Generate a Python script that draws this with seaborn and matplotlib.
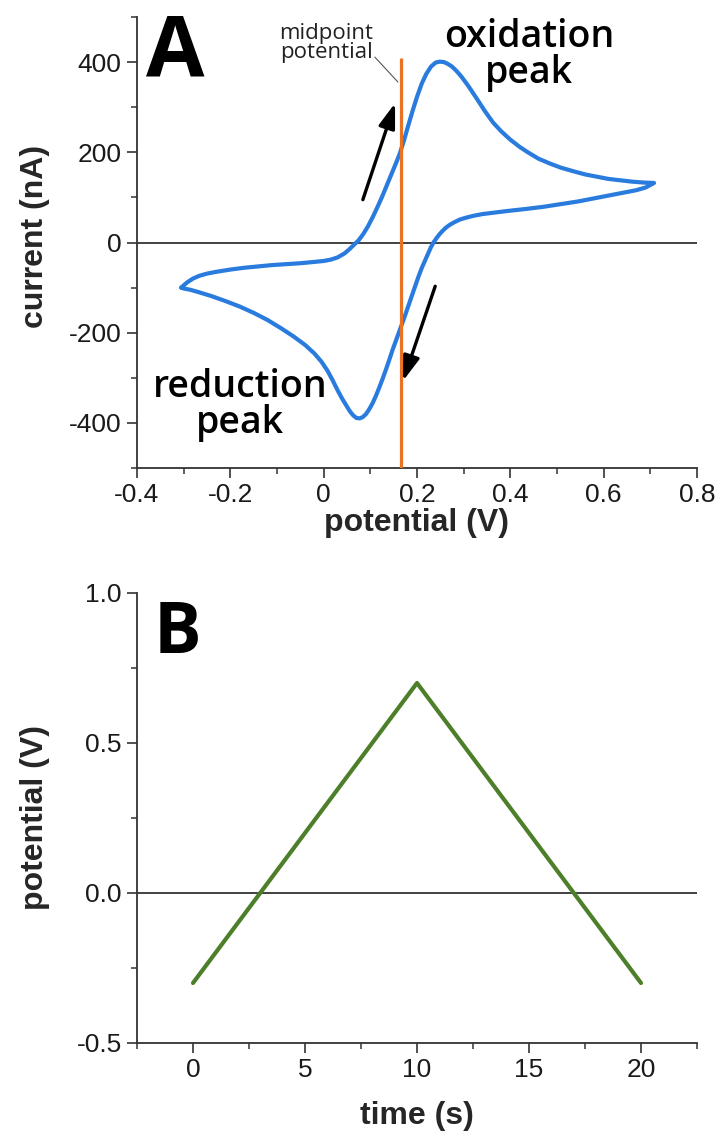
import matplotlib
matplotlib.use("Agg")
import matplotlib.pyplot as plt
import pandas as pd
import seaborn as sns
from matplotlib.ticker import MultipleLocator, FuncFormatter

# Cyclic voltammogram, anodic sweep (from the negative vertex up to the positive vertex)
fwd_potential = [-0.305, -0.300, -0.292, -0.280, -0.267, -0.25, -0.23, -0.2, -0.17, -0.14,
                 -0.11, -0.08, -0.05, -0.02, 0.0, 0.015, 0.03, 0.045, 0.055, 0.065,
                 0.075, 0.085, 0.095, 0.105, 0.115, 0.125, 0.135, 0.145, 0.155, 0.163,
                 0.172, 0.18, 0.19, 0.2, 0.21, 0.22, 0.23, 0.24, 0.249, 0.258,
                 0.266, 0.275, 0.285, 0.295, 0.31, 0.33, 0.345, 0.363, 0.38, 0.4,
                 0.42, 0.436, 0.46, 0.485, 0.508, 0.535, 0.56, 0.585, 0.61, 0.635,
                 0.66, 0.685, 0.708]
fwd_current = [-100, -95, -88, -80, -74, -69, -65, -60, -56, -53,
               -50, -48, -46, -43, -41, -38, -33, -24, -15, -5,
               5, 19, 36, 56, 78, 101, 126, 151, 176, 197,
               226, 255, 290, 323, 352, 374, 390, 399, 401, 400,
               396, 390, 380, 368, 347, 316, 292, 266, 247, 228,
               212, 201, 186, 175, 166, 158, 151, 146, 141, 138,
               135, 133, 132]

# Cathodic sweep back to the negative vertex
rev_potential = [0.708, 0.69, 0.67, 0.65, 0.62, 0.58, 0.545, 0.508, 0.47, 0.43,
                 0.395, 0.363, 0.34, 0.32, 0.305, 0.292, 0.28, 0.27, 0.262, 0.255,
                 0.248, 0.242, 0.236, 0.23, 0.224, 0.217, 0.21, 0.203, 0.196, 0.189,
                 0.182, 0.175, 0.168, 0.161, 0.154, 0.147, 0.14, 0.133, 0.126, 0.119,
                 0.112, 0.105, 0.098, 0.091, 0.084, 0.077, 0.07, 0.063, 0.056, 0.049,
                 0.04, 0.03, 0.019, 0.008, -0.005, -0.02, -0.04, -0.065, -0.09, -0.12,
                 -0.15, -0.18, -0.21, -0.24, -0.265, -0.285, -0.3, -0.305]
rev_current = [132, 122, 116, 112, 106, 98, 91, 85, 79, 74,
               70, 66, 63, 59, 55, 51, 45, 39, 33, 26,
               18, 10, 1, -10, -24, -40, -57, -76, -97, -118,
               -139, -160, -180, -200, -220, -240, -262, -283, -303, -322,
               -340, -356, -369, -380, -387, -390, -389, -383, -374, -362,
               -347, -328, -305, -284, -264, -246, -227, -208, -191, -172,
               -156, -142, -130, -119, -111, -105, -102, -100]

midpoint_potential = 0.165
midpoint_line_top = 409

# Sweep direction arrows: (tail, head) in (V, nA)
anodic_arrow = ((0.084, 95), (0.153, 309))
cathodic_arrow = ((0.239, -97), (0.170, -307))

# Applied triangular potential waveform
time_s = [0, 10, 20]
applied_potential = [-0.3, 0.7, -0.3]

BLUE = "#2a7bde"
ORANGE = "#ea7323"
GREEN = "#4d7f2a"
AXIS = "#333333"

sns.set_style("ticks")
plt.rcParams["font.family"] = ["Liberation Sans", "DejaVu Sans"]
plt.rcParams["axes.unicode_minus"] = False

W, H = 718, 1137
fig = plt.figure(figsize=(W / 100, H / 100), dpi=100)
axA = fig.add_axes([137 / W, 1 - 468 / H, 560 / W, 451 / H])
axB = fig.add_axes([137 / W, 1 - 1043 / H, 560 / W, 450 / H])


def fig_px(x, y):
    return x / W, 1 - y / H


def style_axes(ax):
    for side in ("top", "right"):
        ax.spines[side].set_visible(False)
    for side in ("left", "bottom"):
        ax.spines[side].set_color(AXIS)
        ax.spines[side].set_linewidth(1.3)
    ax.tick_params(which="major", direction="out", length=7, width=1.2,
                   color=AXIS, labelsize=19, labelcolor="#1a1a1a", pad=4)
    ax.tick_params(which="minor", direction="out", length=4, width=1.1, color=AXIS)
    ax.set_facecolor("white")


# ---- Panel A: cyclic voltammogram ----
cv = pd.DataFrame({
    "potential": fwd_potential + rev_potential[1:],
    "current": fwd_current + rev_current[1:],
})
axA.axhline(0, color=AXIS, lw=1.3, zorder=1)
sns.lineplot(data=cv, x="potential", y="current", sort=False, estimator=None,
             color=BLUE, lw=3.0, ax=axA, zorder=3)
axA.lines[-1].set_solid_joinstyle("round")
axA.plot([midpoint_potential, midpoint_potential], [-500, midpoint_line_top],
         color=ORANGE, lw=2.3, zorder=4, solid_capstyle="butt")

for (tail, head) in (anodic_arrow, cathodic_arrow):
    axA.annotate("", xy=head, xytext=tail,
                 arrowprops=dict(arrowstyle="-|>,head_length=0.75,head_width=0.25",
                                 color="black", lw=2.4, mutation_scale=20,
                                 shrinkA=0, shrinkB=0),
                 zorder=5)

axA.set_xlim(-0.4, 0.8)
axA.set_ylim(-500, 500)
axA.xaxis.set_major_locator(MultipleLocator(0.2))
axA.xaxis.set_minor_locator(MultipleLocator(0.1))
axA.yaxis.set_major_locator(MultipleLocator(200))
axA.yaxis.set_minor_locator(MultipleLocator(100))
axA.xaxis.set_major_formatter(FuncFormatter(lambda v, p: f"{round(v, 2):g}"))
axA.yaxis.set_major_formatter(FuncFormatter(lambda v, p: f"{v:.0f}"))
style_axes(axA)
axA.set_xlabel("potential (V)", fontsize=23, fontweight="bold")
axA.set_ylabel("current (nA)", fontsize=23, fontweight="bold")
axA.xaxis.label.set_va("center")
axA.yaxis.label.set_va("center")
axA.xaxis.set_label_coords(0.5, (468 - 523) / 451)
axA.yaxis.set_label_coords((35 - 137) / 560, (468 - 236) / 451)

axA.annotate("", xy=(midpoint_potential - 0.006, 356), xytext=(0.1097, 411),
             arrowprops=dict(arrowstyle="-", color="#555555", lw=0.8,
                             shrinkA=0, shrinkB=0))
fig.text(*fig_px(326, 43), "midpoint\npotential", ha="center", va="center",
         fontsize=16, family="Open Sans", linespacing=0.9, color="#222222")
fig.text(*fig_px(529, 55), "oxidation\npeak", ha="center", va="center",
         fontsize=27, family="Open Sans", fontweight="semibold", linespacing=0.92,
         color="black")
fig.text(*fig_px(240, 405), "reduction\npeak", ha="center", va="center",
         fontsize=27, family="Open Sans", fontweight="semibold", linespacing=0.92,
         color="black")
fig.text(*fig_px(146, 76), "A", ha="left", va="baseline",
         fontsize=61, family="Open Sans", fontweight="bold", color="black")

# ---- Panel B: applied potential waveform ----
wave = pd.DataFrame({"time": time_s, "potential": applied_potential})
axB.axhline(0, color=AXIS, lw=1.3, zorder=1)
sns.lineplot(data=wave, x="time", y="potential", sort=False, estimator=None,
             color=GREEN, lw=3.0, ax=axB, zorder=3)
axB.set_xlim(-2.5, 22.5)
axB.set_ylim(-0.5, 1.0)
axB.xaxis.set_major_locator(MultipleLocator(5))
axB.xaxis.set_minor_locator(MultipleLocator(2.5))
axB.yaxis.set_major_locator(MultipleLocator(0.5))
axB.yaxis.set_minor_locator(MultipleLocator(0.25))
axB.xaxis.set_major_formatter(FuncFormatter(lambda v, p: f"{v:.0f}"))
axB.yaxis.set_major_formatter(FuncFormatter(lambda v, p: f"{v:.1f}"))
style_axes(axB)
axB.set_xlabel("time (s)", fontsize=23, fontweight="bold")
axB.set_ylabel("potential (V)", fontsize=23, fontweight="bold")
axB.xaxis.label.set_va("center")
axB.yaxis.label.set_va("center")
axB.xaxis.set_label_coords(0.5, (1043 - 1116) / 450)
axB.yaxis.set_label_coords((35 - 137) / 560, 0.5)
fig.text(*fig_px(154, 653), "B", ha="left", va="baseline",
         fontsize=51, family="Open Sans", fontweight="bold", color="black")

fig.savefig("out.png", dpi=100, facecolor="white")
